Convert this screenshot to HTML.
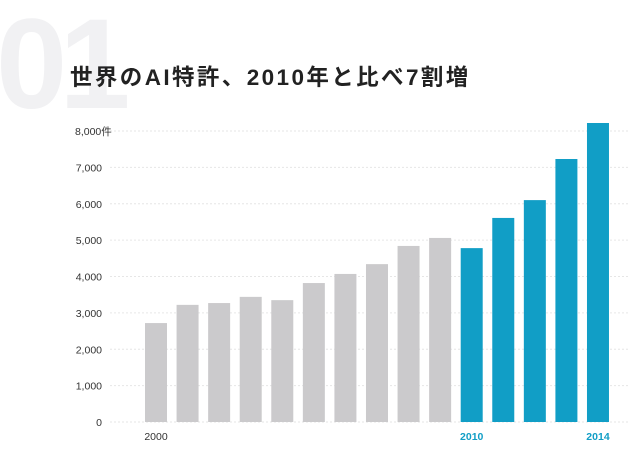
<!DOCTYPE html>
<html><head><meta charset="utf-8"><style>
body{margin:0;background:#fff;width:640px;height:451px;overflow:hidden;font-family:"Liberation Sans","Noto Sans CJK JP",sans-serif}
</style></head><body>
<svg width="640" height="451">
<text x="-4" y="108" font-size="128" font-weight="bold" fill="#f1f1f3" font-family="Liberation Sans, sans-serif" letter-spacing="-8">01</text>
<text x="70" y="85" font-size="22.5" font-weight="bold" fill="#222" letter-spacing="2.4" font-family="Liberation Sans, Noto Sans CJK JP, sans-serif">世界のAI特許、2010年と比べ7割増</text>
<g id="grid"></g><g id="bars"></g><g id="labels"></g>
</svg>
<script>
const years=[2000,2001,2002,2003,2004,2005,2006,2007,2008,2009,2010,2011,2012,2013,2014];
const values=[2720,3220,3270,3440,3350,3820,4070,4340,4840,5060,4780,5610,6100,7230,8220];
const yTicks=[0,1000,2000,3000,4000,5000,6000,7000,8000];
const yTickLabels=["0","1,000","2,000","3,000","4,000","5,000","6,000","7,000","8,000件"];
const xLabels={2000:"2000",2010:"2010",2014:"2014"};
const NS="http://www.w3.org/2000/svg";
const y=v=>422-v*0.036375;
const x=i=>145+i*31.57;
const bw=22;
function mk(t,a,p){const e=document.createElementNS(NS,t);for(const k in a)e.setAttribute(k,a[k]);document.getElementById(p).appendChild(e);return e;}
yTicks.forEach((v,i)=>{
 const l=mk('line',{x1:110,x2:630,y1:y(v),y2:y(v),stroke:'#e6e6e6','stroke-dasharray':'2,2','stroke-width':1},'grid');
 
 
 const t=mk('text',{x:v===8000?75:102,y:y(v)+4,'font-size':10.5,fill:'#333','text-anchor':v===8000?'start':'end'},'labels');
 t.textContent=yTickLabels[i];
 
 
});
years.forEach((yr,i)=>{
 const r=mk('rect',{x:x(i),y:y(values[i]),width:bw,height:422-y(values[i]),fill:yr>=2010?'#119ec6':'#cbcacc'},'bars');
 
 
 if(xLabels[yr]){
  const t=mk('text',{x:x(i)+bw/2,y:440,'font-size':10.5,'text-anchor':'middle',fill:yr>=2010?'#119ec6':'#333','font-weight':yr>=2010?'bold':'normal'},'labels');
  t.textContent=xLabels[yr];
  
  
 }
});
</script>
</body></html>
